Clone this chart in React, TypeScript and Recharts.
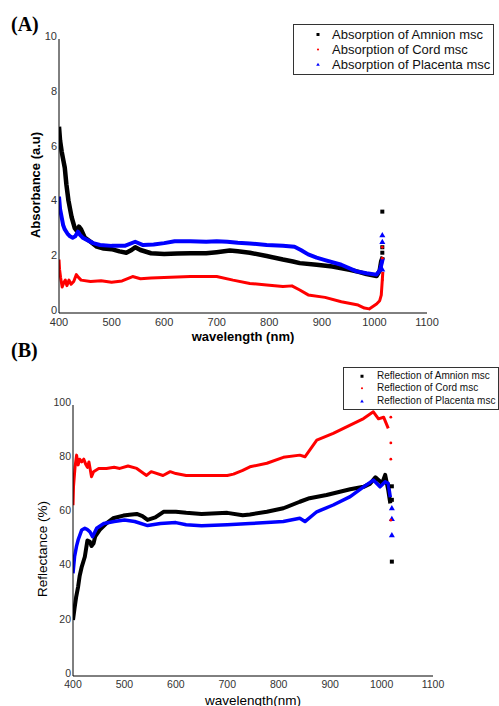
import React from 'react';
import { ComposedChart, Line, Scatter, XAxis, YAxis, Legend } from 'recharts';

// [wavelength nm, value]
const amnionAbs = [
  [400, 6.8], [402, 6.3], [405, 5.9], [408, 5.6], [411, 5.3], [414, 4.7], [418, 4.1], [424, 3.5],
  [430, 3.1], [434, 3.0], [438, 3.15], [442, 3.05], [449, 2.75], [460, 2.6], [472, 2.42], [485, 2.35],
  [500, 2.33], [515, 2.25], [528, 2.2], [538, 2.3], [545, 2.4], [555, 2.3], [575, 2.18], [600, 2.15],
  [625, 2.17], [650, 2.18], [680, 2.18], [700, 2.22], [725, 2.28], [740, 2.25], [763, 2.2], [795, 2.08],
  [826, 1.95], [845, 1.88], [858, 1.82], [890, 1.76], [920, 1.7], [953, 1.58], [970, 1.5], [985, 1.42],
  [1004, 1.35], [1010, 1.55], [1013, 1.9], [1016, 2.05],
];
const cordAbs = [
  [400, 1.95], [401, 1.6], [403, 1.3], [406, 0.95], [409, 1.1], [412, 1.2], [415, 1.0], [419, 1.2],
  [423, 1.05], [428, 1.15], [433, 1.4], [437, 1.3], [442, 1.2], [460, 1.15], [480, 1.18], [500, 1.12],
  [520, 1.17], [540, 1.33], [555, 1.25], [575, 1.28], [600, 1.3], [650, 1.33], [700, 1.33], [731, 1.2],
  [763, 1.08], [795, 1.02], [826, 0.97], [843, 0.99], [858, 0.84], [874, 0.66], [906, 0.57], [937, 0.41],
  [969, 0.29], [981, 0.18], [990, 0.15], [1004, 0.33], [1010, 0.45], [1013, 0.65], [1016, 1.5],
];
const placentaAbs = [
  [400, 4.25], [402, 3.8], [405, 3.5], [408, 3.2], [411, 3.05], [416, 2.9], [421, 2.8], [426, 2.75],
  [431, 2.8], [436, 2.97], [440, 2.85], [445, 2.75], [455, 2.65], [465, 2.55], [478, 2.48], [500, 2.45],
  [525, 2.45], [545, 2.6], [560, 2.48], [580, 2.5], [600, 2.55], [620, 2.62], [650, 2.62], [680, 2.6],
  [700, 2.62], [720, 2.6], [740, 2.56], [763, 2.54], [795, 2.48], [826, 2.45], [848, 2.42], [860, 2.3],
  [874, 2.14], [890, 2.02], [906, 1.93], [937, 1.76], [966, 1.52], [985, 1.45], [1004, 1.4], [1010, 1.55],
  [1013, 1.75], [1016, 2.0],
];
const amnionAbsTail = [[1015, 3.7], [1015, 2.4], [1015, 2.2]];
const cordAbsTail = [[1015, 2.0], [1015, 2.4], [1015, 1.2]];
const placentaAbsTail = [[1015, 2.85], [1015, 2.6], [1015, 1.6]];

const amnionRef = [
  [400, 20.7], [403, 25], [406, 29], [410, 33], [413, 37], [417, 40.3], [423, 44], [428, 50],
  [433, 49.5], [436, 48], [440, 49], [443, 51.4], [452, 53.9], [465, 56.3], [478, 58.2], [498, 59.2],
  [510, 59.5], [524, 59.8], [535, 59], [545, 57.6], [560, 58.5], [576, 60.6], [600, 60.6], [620, 60.2],
  [650, 59.8], [700, 60.2], [730, 59.3], [744, 59.6], [777, 60.6], [809, 61.9], [841, 64.3], [860, 65.6],
  [893, 66.8], [919, 68], [939, 68.9], [965, 69.8], [978, 71], [988, 73.3], [1001, 71.1], [1007, 74.2],
  [1013, 68.6], [1017, 63.7],
];
const cordRef = [
  [400, 63], [401, 70], [404, 77.2], [407, 81.5], [410, 77.9], [413, 80], [417, 79], [421, 80],
  [425, 78], [428, 77], [431, 79], [436, 73.5], [440, 75.4], [450, 76.6], [465, 76.6], [480, 77],
  [491, 76.6], [507, 77.5], [524, 76.6], [543, 74], [552, 75.4], [575, 74], [589, 75.4], [600, 74.7],
  [620, 74], [650, 74], [700, 74], [712, 74.5], [730, 75.9], [744, 77.2], [777, 78.5], [809, 80.7],
  [841, 81.5], [851, 80.9], [874, 87], [906, 89.5], [939, 92.6], [965, 95], [984, 97.5], [994, 94.9],
  [1004, 95.5], [1013, 91.4],
];
const placentaRef = [
  [400, 37.9], [403, 44], [407, 48], [410, 50.2], [417, 53.9], [423, 54.5], [428, 54], [433, 53.2],
  [438, 51.4], [446, 54.5], [460, 56.3], [480, 57], [500, 57.6], [520, 57], [545, 55.5], [570, 56.3],
  [600, 56.6], [620, 55.8], [650, 55.4], [700, 55.8], [744, 56.3], [777, 56.6], [809, 57], [841, 58.2],
  [851, 57], [874, 60.6], [906, 63.1], [939, 66.2], [965, 69.8], [984, 72.3], [997, 69.8], [1007, 71.7],
  [1013, 71], [1017, 66],
];
const amnionRefTail = [[1020, 42.2], [1020, 70], [1020, 65]];
const cordRefTail = [[1018, 95.5], [1018, 86], [1018, 80], [1018, 57.5]];
const placentaRefTail = [[1020, 52], [1020, 58], [1020, 62]];

const wavelengthTicks = [400, 500, 600, 700, 800, 900, 1000, 1100];
const absTicks = [0, 2, 4, 6, 8, 10];
const refTicks = [0, 20, 40, 60, 80, 100];

const absNames = ['Absorption of Amnion msc', 'Absorption of Cord msc', 'Absorption of Placenta msc'];
const refNames = ['Reflection of Amnion msc', 'Reflection of Cord msc', 'Reflection of Placenta msc'];
const colors = ['#000000', '#ff0000', '#0000ff'];

const toPoints = (pairs: number[][]) => pairs.map(([x, y]) => ({ x, y }));

const font = 'Arial, "Liberation Sans", sans-serif';

function Marker({ kind, x, y, s }: { kind: number; x: number; y: number; s: number }) {
  if (kind === 0) return <rect x={x - s / 2} y={y - s / 2} width={s} height={s} fill={colors[0]} />;
  if (kind === 1) return <circle cx={x} cy={y} r={s * 0.35} fill={colors[1]} />;
  return (
    <path
      d={`M${x},${y - s * 0.6}L${x + s * 0.6},${y + s * 0.45}L${x - s * 0.6},${y + s * 0.45}Z`}
      fill={colors[2]}
    />
  );
}

function tailShape(kind: number, s: number) {
  return (props: any) => <Marker kind={kind} x={props.cx} y={props.cy} s={s} />;
}

function VTitle({ px, py, text, bold, size }: any) {
  return (
    <text
      x={px}
      y={py}
      transform={`rotate(-90 ${px} ${py})`}
      textAnchor="middle"
      dominantBaseline="central"
      fontFamily={font}
      fontWeight={bold ? 'bold' : 'normal'}
      fontSize={size}
      fill="#000"
    >
      {text}
    </text>
  );
}

function HTitle({ px, py, text, bold, size }: any) {
  return (
    <text
      x={px}
      y={py}
      textAnchor="middle"
      dominantBaseline="central"
      fontFamily={font}
      fontWeight={bold ? 'bold' : 'normal'}
      fontSize={size}
      fill="#000"
    >
      {text}
    </text>
  );
}

function LegendBox({ names, width, rowH, fontSize, markerX, textX, padTop, marker }: any) {
  return (
    <div
      style={{
        width,
        border: '1px solid #333',
        background: '#fff',
        boxSizing: 'border-box',
        paddingTop: padTop,
        paddingBottom: padTop,
        fontFamily: font,
        fontSize,
        color: '#111',
      }}
    >
      {names.map((n: string, i: number) => (
        <div key={n} style={{ position: 'relative', height: rowH, lineHeight: `${rowH}px`, whiteSpace: 'nowrap' }}>
          <svg width={10} height={rowH} style={{ position: 'absolute', left: markerX - 5, top: 0 }}>
            <Marker kind={i} x={5} y={rowH / 2} s={marker} />
          </svg>
          <span style={{ position: 'absolute', left: textX }}>{n}</span>
        </div>
      ))}
    </div>
  );
}

const panelLabel: React.CSSProperties = {
  position: 'absolute',
  left: 11,
  fontFamily: '"Times New Roman", "Liberation Serif", serif',
  fontWeight: 'bold',
  fontSize: 20,
  lineHeight: '20px',
};

export default function App() {
  return (
    <div style={{ position: 'absolute', left: 0, top: 0, width: 499, height: 706, background: '#fff', overflow: 'hidden' }}>
      <div style={{ ...panelLabel, top: 14 }}>(A)</div>
      <div style={{ ...panelLabel, top: 340 }}>(B)</div>

      <div style={{ position: 'absolute', left: 0, top: 0 }}>
        <ComposedChart width={499} height={345} margin={{ top: 39, right: 72, bottom: 0, left: 0 }}>
          <XAxis
            type="number"
            dataKey="x"
            domain={[400, 1100]}
            ticks={wavelengthTicks}
            allowDataOverflow
            height={32}
            tickLine={false}
            tickSize={0}
            tickMargin={5}
            axisLine={{ stroke: '#000' }}
            tick={{ fontSize: 11, fill: '#333', fontFamily: font }}
            label={<HTitle px={243} py={336} text="wavelength (nm)" bold size={13} />}
          />
          <YAxis
            type="number"
            dataKey="y"
            domain={[0, 10]}
            ticks={absTicks}
            allowDataOverflow
            width={59}
            tickLine={false}
            tickSize={0}
            tickMargin={2}
            axisLine={{ stroke: '#000' }}
            tick={{ fontSize: 11, fill: '#333', fontFamily: font, dy: -3 }}
            label={<VTitle px={35} py={185} text="Absorbance (a.u)" bold size={13} />}
          />
          <Legend
            layout="vertical"
            align="center"
            verticalAlign="middle"
            wrapperStyle={{ top: 24, left: 293, width: 201 }}
            content={() => (
              <LegendBox names={absNames} width={201} rowH={15} fontSize={13} markerX={24} textX={38} padTop={2} marker={3} />
            )}
          />
          <Line data={toPoints(amnionAbs)} dataKey="y" stroke={colors[0]} strokeWidth={4.5} strokeLinejoin="round" dot={false} activeDot={false} isAnimationActive={false} />
          <Line data={toPoints(placentaAbs)} dataKey="y" stroke={colors[2]} strokeWidth={4} strokeLinejoin="round" dot={false} activeDot={false} isAnimationActive={false} />
          <Line data={toPoints(cordAbs)} dataKey="y" stroke={colors[1]} strokeWidth={3} strokeLinejoin="round" dot={false} activeDot={false} isAnimationActive={false} />
          <Scatter data={toPoints(amnionAbsTail)} dataKey="y" shape={tailShape(0, 4)} isAnimationActive={false} />
          <Scatter data={toPoints(placentaAbsTail)} dataKey="y" shape={tailShape(2, 5)} isAnimationActive={false} />
          <Scatter data={toPoints(cordAbsTail)} dataKey="y" shape={tailShape(1, 4)} isAnimationActive={false} />
        </ComposedChart>
      </div>

      <div style={{ position: 'absolute', left: 0, top: 345 }}>
        <ComposedChart width={499} height={361} margin={{ top: 60, right: 66, bottom: 0, left: 0 }}>
          <XAxis
            type="number"
            dataKey="x"
            domain={[400, 1100]}
            ticks={wavelengthTicks}
            allowDataOverflow
            height={30}
            tickLine={false}
            tickSize={0}
            tickMargin={5}
            axisLine={{ stroke: '#000' }}
            tick={{ fontSize: 10.5, fill: '#333', fontFamily: font }}
            label={<HTitle px={253} py={355} text="wavelength(nm)" size={13.5} />}
          />
          <YAxis
            type="number"
            dataKey="y"
            domain={[0, 100]}
            ticks={refTicks}
            allowDataOverflow
            width={73}
            tickLine={false}
            tickSize={0}
            tickMargin={2}
            axisLine={{ stroke: '#000' }}
            tick={{ fontSize: 10.5, fill: '#333', fontFamily: font, dy: -3 }}
            label={<VTitle px={42} py={204} text="Reflectance (%)" size={13.5} />}
          />
          <Legend
            layout="vertical"
            align="center"
            verticalAlign="middle"
            wrapperStyle={{ top: 22, left: 343, width: 156 }}
            content={() => (
              <LegendBox names={refNames} width={156} rowH={12.5} fontSize={10} markerX={18} textX={33} padTop={1.5} marker={3} />
            )}
          />
          <Line data={toPoints(cordRef)} dataKey="y" stroke={colors[1]} strokeWidth={3} strokeLinejoin="round" dot={false} activeDot={false} isAnimationActive={false} />
          <Line data={toPoints(amnionRef)} dataKey="y" stroke={colors[0]} strokeWidth={4} strokeLinejoin="round" dot={false} activeDot={false} isAnimationActive={false} />
          <Line data={toPoints(placentaRef)} dataKey="y" stroke={colors[2]} strokeWidth={3.5} strokeLinejoin="round" dot={false} activeDot={false} isAnimationActive={false} />
          <Scatter data={toPoints(amnionRefTail)} dataKey="y" shape={tailShape(0, 4)} isAnimationActive={false} />
          <Scatter data={toPoints(placentaRefTail)} dataKey="y" shape={tailShape(2, 5)} isAnimationActive={false} />
          <Scatter data={toPoints(cordRefTail)} dataKey="y" shape={tailShape(1, 4)} isAnimationActive={false} />
        </ComposedChart>
      </div>
    </div>
  );
}
